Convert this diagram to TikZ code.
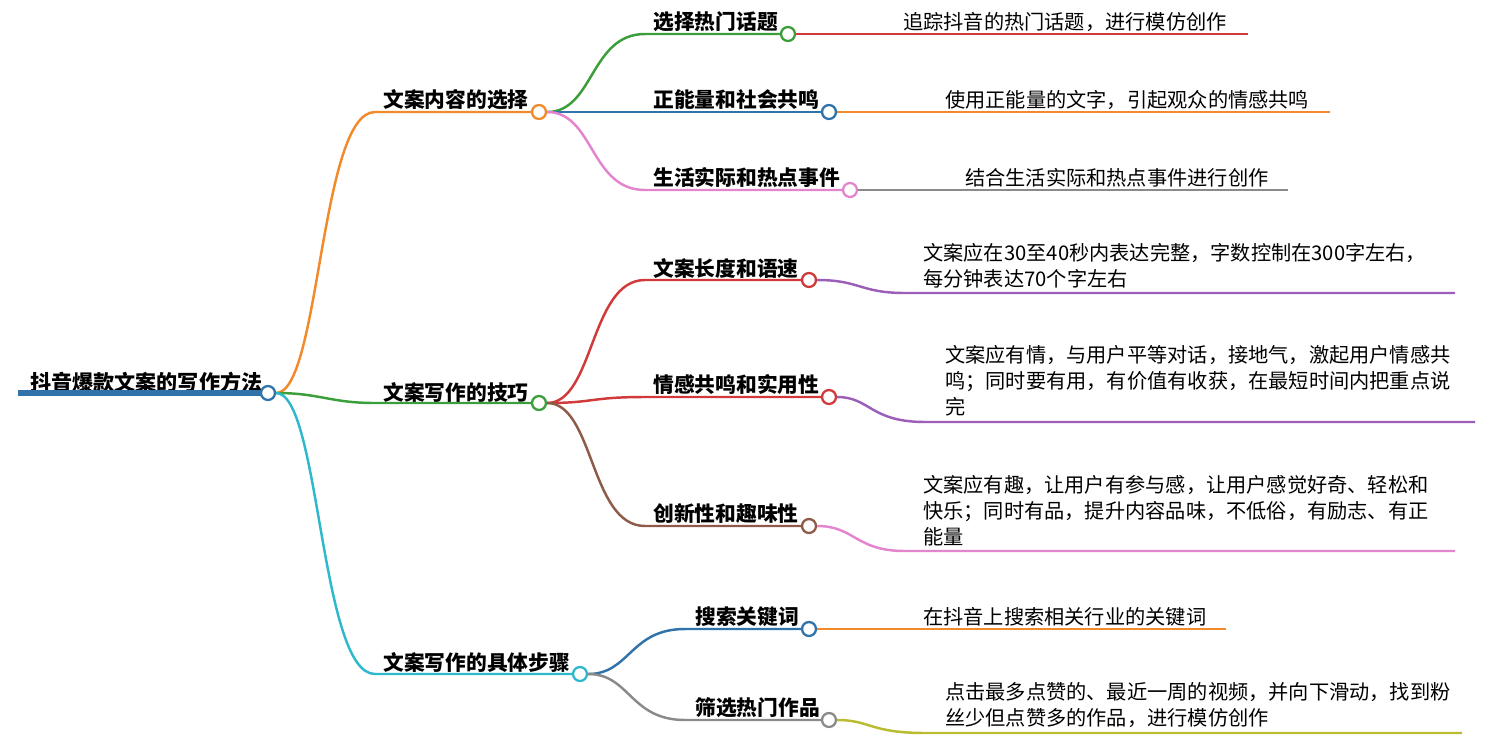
\documentclass[tikz,border=0pt]{standalone}
\usepackage{fontspec}
\setmainfont{Noto Sans CJK SC}
\definecolor{cOr}{HTML}{F2892A}
\definecolor{cGr}{HTML}{3C9E3A}
\definecolor{cBl}{HTML}{2F73AA}
\definecolor{cCy}{HTML}{2DB8CC}
\definecolor{cRd}{HTML}{D03A3A}
\definecolor{cPk}{HTML}{E384CF}
\definecolor{cGy}{HTML}{8A8A8A}
\definecolor{cPu}{HTML}{9B5FBA}
\definecolor{cBr}{HTML}{8E5B48}
\definecolor{cOl}{HTML}{B9BC2E}
\tikzset{
  dot/.style={circle,draw=#1,fill=white,line width=1.3pt,minimum size=14\pxu,inner sep=0pt},
  lbl/.style={anchor=west,font=\fontsize{11.8}{13}\selectfont\bfseries,inner sep=0pt},
  txt/.style={anchor=west,font=\fontsize{11.5}{14.7}\selectfont,inner sep=0pt,align=left},
  ln/.style={line width=1.4pt,draw=#1},
}
\newlength\pxu \setlength\pxu{0.567pt}
\begin{document}
\begin{tikzpicture}[x=0.02cm,y=-0.02cm]
\useasboundingbox (0,0) rectangle (1512,751);
\node[lbl,font=\fontsize{12}{13}\selectfont\bfseries] (root) at (30,382) {抖音爆款文案的写作方法};
\coordinate (rs) at (18,393);
\draw[line width=3.5pt,cBl] (rs) -- (268,393);
\node[dot=cBl] (rc) at (268,393) {};
\node[lbl] (a) at (383,100) {文案内容的选择};
\node[lbl] (b) at (383,392) {文案写作的技巧};
\node[lbl] (c) at (383,662) {文案写作的具体步骤};
\coordinate (a0) at (375,112); \coordinate (b0) at (375,403); \coordinate (c0) at (375,674);
\draw[ln=cOr] (rc) .. controls (320,393) and (320,112) .. (a0) -- (532,112);
\draw[ln=cGr] (rc) .. controls (320,393) and (330,403) .. (b0) -- (532,403);
\draw[ln=cCy] (rc) .. controls (320,393) and (320,674) .. (c0) -- (573,674);
\node[dot=cOr] (ac) at (539,112) {};
\node[dot=cGr] (bc) at (539,403) {};
\node[dot=cCy] (cc) at (580,674) {};
\newcommand\sub[8]{%
  \node[lbl] (#1) at (653,#4) {#5};
  \coordinate (#1s) at (645,#4+12);
  \draw[ln=#6] (#2) .. controls (#3+55,#8) and (590,#4+12) .. (#1s) -- (#7-7,#4+12);
  \node[dot=#6] (#1c) at (#7,#4+12) {};
}
\newcommand\subb[8]{%
  \node[lbl] (#1) at (695,#4) {#5};
  \coordinate (#1s) at (685,#4+12);
  \draw[ln=#6] (#2) .. controls (#3+50,#8) and (630,#4+12) .. (#1s) -- (#7-7,#4+12);
  \node[dot=#6] (#1c) at (#7,#4+12) {};
}
\sub{a1}{ac}{539}{22}{选择热门话题}{cGr}{788}{112}
\sub{a2}{ac}{539}{100}{正能量和社会共鸣}{cBl}{829}{112}
\sub{a3}{ac}{539}{178}{生活实际和热点事件}{cPk}{850}{112}
\sub{b1}{bc}{539}{268}{文案长度和语速}{cRd}{809}{403}
\sub{b2}{bc}{539}{385}{情感共鸣和实用性}{cRd}{829}{403}
\sub{b3}{bc}{539}{514}{创新性和趣味性}{cBr}{809}{403}
\subb{c1}{cc}{580}{617}{搜索关键词}{cBl}{809}{674}
\subb{c2}{cc}{580}{708}{筛选热门作品}{cGy}{829}{674}
\node[txt] (t1) at (903,22) {追踪抖音的热门话题，进行模仿创作};
\coordinate (e1) at (1248,34);
\draw[ln=cRd] (a1c) -- (e1);
\node[txt] (t2) at (945,100) {使用正能量的文字，引起观众的情感共鸣};
\coordinate (e2) at (1330,112);
\draw[ln=cOr] (a2c) -- (e2);
\node[txt] (t3) at (965,178) {结合生活实际和热点事件进行创作};
\coordinate (e3) at (1288,190);
\draw[ln=cGy] (a3c) -- (e3);
\node[txt,anchor=north west] (t4) at (923,243) {文案应在30至40秒内表达完整，字数控制在300字左右，\\每分钟表达70个字左右};
\coordinate (f4) at (905,293); \coordinate (e4) at (1455,293);
\draw[ln=cPu] (b1c) .. controls (860,280) and (860,293) .. (f4) -- (e4);
\node[txt,anchor=north west] (t5) at (945,345) {文案应有情，与用户平等对话，接地气，激起用户情感共\\鸣；同时要有用，有价值有收获，在最短时间内把重点说\\完};
\coordinate (f5) at (925,422); \coordinate (e5) at (1475,422);
\draw[ln=cPu] (b2c) .. controls (870,397) and (870,422) .. (f5) -- (e5);
\node[txt,anchor=north west] (t6) at (923,475) {文案应有趣，让用户有参与感，让用户感觉好奇、轻松和\\快乐；同时有品，提升内容品味，不低俗，有励志、有正\\能量};
\coordinate (f6) at (905,551); \coordinate (e6) at (1455,551);
\draw[ln=cPk] (b3c) .. controls (855,526) and (855,551) .. (f6) -- (e6);
\node[txt] (t7) at (923,617) {在抖音上搜索相关行业的关键词};
\coordinate (e7) at (1226,629);
\draw[ln=cOr] (c1c) -- (e7);
\node[txt,anchor=north west] (t8) at (945,682) {点击最多点赞的、最近一周的视频，并向下滑动，找到粉\\丝少但点赞多的作品，进行模仿创作};
\coordinate (f8) at (925,733); \coordinate (e8) at (1462,733);
\draw[ln=cOl] (c2c) .. controls (870,720) and (870,733) .. (f8) -- (e8);
\end{tikzpicture}
\end{document}
